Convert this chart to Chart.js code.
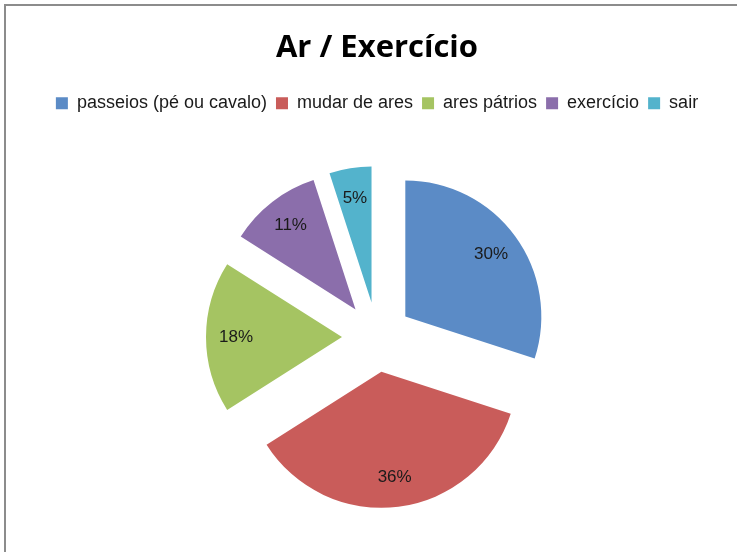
<!DOCTYPE html>
<html>
<head>
<meta charset="utf-8">
<script src="https://cdn.jsdelivr.net/npm/chart.js@4.4.1/dist/chart.umd.min.js"></script>
<style>
  html, body { margin: 0; padding: 0; background: #fff; }
  #wrap { position: relative; width: 737px; height: 552px; overflow: hidden; }
  #frame { position: absolute; left: 4px; top: 4px; right: 0; bottom: 0;
           border-left: 2px solid #8c8c8c; border-top: 2px solid #8c8c8c; }
  #grafico { position: absolute; left: 0; top: 0; }
</style>
</head>
<body>
<div id="wrap">
  <div id="frame"></div>
  <canvas id="grafico" width="737" height="552"></canvas>
</div>
<script>
// dados do gráfico
var categorias = ['passeios (pé ou cavalo)', 'mudar de ares', 'ares pátrios', 'exercício', 'sair'];
var valores = [30, 36, 18, 11, 5];
var cores = ['#5b8bc6', '#c95c5a', '#a5c462', '#8b6eab', '#53b3cc'];

var _afastamento = 35; // distância de cada fatia ao centro
var _distRotulo = 106;  // distância do rótulo à ponta da fatia

// desenha cada fatia afastada do centro e escreve a percentagem
var fatiasSeparadas = {
    id: 'fatiasSeparadas',
    beforeDatasetDraw: function (chart, args) {
        var ctx = chart.ctx;
        var arcs = args.meta.data;
        arcs.forEach(function (arc) {
            var meio = (arc.startAngle + arc.endAngle) / 2;
            ctx.save();
            ctx.translate(Math.cos(meio) * _afastamento, Math.sin(meio) * _afastamento);
            arc.draw(ctx);
            ctx.restore();
        });
        var total = valores.reduce(function (a, b) { return a + b; }, 0);
        ctx.save();
        ctx.fillStyle = '#1a1a1a';
        ctx.font = '17px "Liberation Sans", sans-serif';
        ctx.textAlign = 'center';
        ctx.textBaseline = 'middle';
        arcs.forEach(function (arc, i) {
            var meio = (arc.startAngle + arc.endAngle) / 2;
            var d = _afastamento + _distRotulo;
            var txt = Math.round(valores[i] / total * 100) + '%';
            ctx.fillText(txt, arc.x + Math.cos(meio) * d, arc.y + Math.sin(meio) * d);
        });
        ctx.restore();
        return false;
    }
};

var ctx = document.getElementById('grafico').getContext('2d');
var _myChart = new Chart(ctx, {
    type: 'pie',
    data: {
        labels: categorias,
        datasets: [{
            data: valores,
            backgroundColor: cores,
            borderWidth: 0
        }]
    },
    options: {
        responsive: false,
        animation: false,
        radius: 136,
        layout: { padding: { left: 17, right: 0, top: 0, bottom: -18 } },
        plugins: {
            title: {
                display: true,
                text: 'Ar / Exercício',
                color: '#000',
                font: { family: '"Open Sans", sans-serif', size: 31, weight: 'bold' },
                padding: { top: 30, bottom: 18 }
            },
            legend: {
                position: 'top',
                labels: {
                    boxWidth: 12,
                    boxHeight: 12,
                    color: '#1a1a1a',
                    padding: 9,
                    font: { family: '"Liberation Sans", sans-serif', size: 18 }
                }
            },
            tooltip: { enabled: false }
        }
    },
    plugins: [fatiasSeparadas]
});
</script>
</body>
</html>
